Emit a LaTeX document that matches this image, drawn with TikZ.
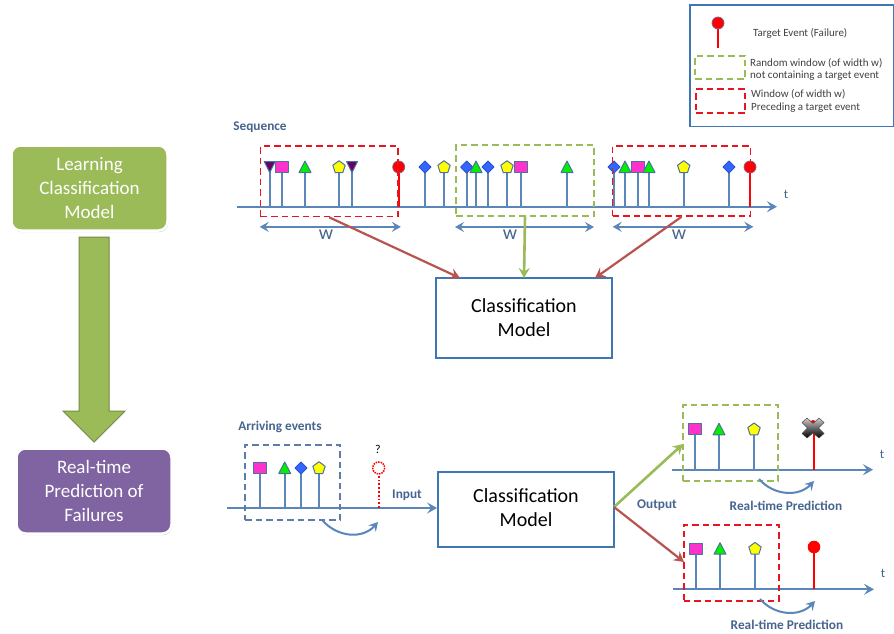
\documentclass[tikz,border=0pt]{standalone}
\usepackage{fontspec}
\setmainfont{Carlito}
\usetikzlibrary{arrows.meta,shadows,calc}
\definecolor{lnblue}{HTML}{5A86BA}
\definecolor{txblue}{HTML}{46658F}
\definecolor{boxblue}{HTML}{3F76B4}
\definecolor{wgreen}{HTML}{9BBB59}
\definecolor{wred}{HTML}{E81420}
\definecolor{brred}{HTML}{B8544F}
\definecolor{hgreen}{HTML}{00F000}
\definecolor{hmag}{HTML}{FF33CC}
\definecolor{hyel}{HTML}{FFFF00}
\definecolor{hblu}{HTML}{3366FF}
\definecolor{hpur}{HTML}{660066}
\definecolor{stepgreen}{HTML}{9BBB59}
\definecolor{steppurple}{HTML}{8064A2}
\definecolor{slateblue}{HTML}{5B7DA8}
\newcommand{\fs}[1]{\fontsize{#1}{#1}\selectfont}
\tikzset{
  x=1pt,y=-1pt,
  axisline/.style={draw=lnblue,line width=2pt,-{Stealth[length=10pt,width=11pt,inset=4pt]}},
  stemline/.style={draw=lnblue,line width=2pt},
  redstem/.style={draw=red,line width=2pt},
  mk/.style={draw=lnblue!85!black,line width=1pt,line join=round},
  sqm/.pic={\path[mk,fill=hmag] (-6.5,-5.5) rectangle (6.5,5.5);},
  trim/.pic={\path[mk,fill=hgreen] (-6,5.5) -- (0,-6) -- (6,5.5) -- cycle;},
  dnm/.pic={\path[mk,fill=hpur] (-5.5,-5.5) -- (5.5,-5.5) -- (0,5.5) -- cycle;},
  diam/.pic={\path[mk,draw=hblu!80!black,fill=hblu] (-6,0) -- (0,-6) -- (6,0) -- (0,6) -- cycle;},
  penm/.pic={\path[mk,fill=hyel] (0,-6.3) -- (6.2,-1.7) -- (3.8,5.5) -- (-3.8,5.5) -- (-6.2,-1.7) -- cycle;},
  redm/.pic={\path[draw=lnblue!70!red,line width=.8pt,fill=red] (0,0) circle (6);},
  winbase/.style={rectangle,inner sep=0pt,fill=none,line width=1.6pt,dash pattern=on 6.5pt off 4pt},
  winred/.style={winbase,draw=wred},
  wingreen/.style={winbase,draw=wgreen,line width=2pt},
  winblue/.style={winbase,draw=slateblue},
  modelbox/.style={rectangle,draw=boxblue,line width=1.8pt,fill=white,minimum width=176pt,align=center,font=\fs{20},text=black},
  stepbox/.style={rectangle,rounded corners=9pt,draw=white,line width=2.5pt,text=white,align=center,font=\fs{19},
     drop shadow={shadow xshift=.8pt,shadow yshift=-1.6pt,opacity=.35}},
  lab/.style={inner sep=0pt,text=txblue,font=\bfseries\fs{13.3}},
  leg/.style={inner sep=0pt,text=black!75,font=\fs{11},anchor=west},
  widthar/.style={draw=lnblue,line width=2pt,{Stealth[length=9pt,width=10pt,inset=3.5pt]}-{Stealth[length=9pt,width=10pt,inset=3.5pt]}},
  conred/.style={draw=brred,line width=2.2pt,-{Stealth[length=10pt,width=11pt,inset=3.5pt]}},
  congreen/.style={draw=wgreen,line width=2.6pt,-{Stealth[length=10pt,width=11pt,inset=3.5pt]}},
  curvear/.style={draw=lnblue,line width=2pt,-{Stealth[length=9pt,width=10pt,inset=3.5pt]}},
}
\newcommand{\ev}[4]{\draw[stemline] (#1,#3) -- (#1,#2); \pic at (#1,#2) {#4};}
\newcommand{\evr}[3]{\draw[redstem] (#1,#3) -- (#1,#2); \pic at (#1,#2) {redm};}
\begin{document}
\begin{tikzpicture}
\useasboundingbox (0,0) rectangle (894,633);
\fill[white] (0,0) rectangle (894,633);

% left column
\node[stepbox,fill=stepgreen,minimum width=156pt,minimum height=85pt] (learn) at (89.5,188) {Learning\\[5pt]Classification\\[5pt]Model};
\node[stepbox,fill=steppurple,minimum width=155pt,minimum height=85pt] (rt) at (94,491) {Real-time\\[5pt]Prediction of\\[5pt]Failures};
\path[draw=stepgreen!75!black,line width=1pt,fill=stepgreen,drop shadow={shadow xshift=.5pt,shadow yshift=-1pt,opacity=.2}]
  (79,237) -- (109,237) -- (109,411) -- (125,411) -- (94,442) -- (63,411) -- (79,411) -- cycle;

% legend
\draw[boxblue,line width=1.8pt] (690,5) rectangle (893.5,126.5);
\draw[redstem] (718,48) -- (718,23);
\pic at (718,23) {redm};
\node[leg] (l1) at (753,33) {Target Event (Failure)};
\node[wingreen,minimum width=50pt,minimum height=23.5pt] (lg) at (720,67.5) {};
\node[leg] (l2) at (750,63) {Random window (of width w)};
\node[leg] (l3) at (750,76) {not containing a target event};
\node[winred,line width=2pt,minimum width=49pt,minimum height=24pt] (lr) at (720.5,101) {};
\node[leg] (l4) at (751,94.5) {Window (of width w)};
\node[leg] (l5) at (751,108) {Preceding a target event};

% upper sequence
\node[lab] (seq) at (260,127) {Sequence};
\coordinate (s0) at (237,206.7);
\coordinate (s1) at (777,206.7);
\draw[axisline] (s0) -- (s1);
\foreach \x/\t in {269.7/dnm,281.7/sqm,305/trim,339/penm,352/dnm,425/diam,444/penm,466.7/diam,476/trim,488/diam,507/penm,521/sqm,567/trim,614/diam,625/trim,638/sqm,649/trim,683.7/penm,729/diam}
  {\ev{\x}{167}{206.7}{\t}}
\evr{398.7}{167}{206.7}
\evr{750}{167}{206.7}
\node[winred,minimum width=137.5pt,minimum height=70.5pt] (w1) at (329.3,181.3) {};
\node[wingreen,minimum width=138pt,minimum height=71pt] (w2) at (525,180.5) {};
\node[winred,minimum width=138pt,minimum height=70pt] (w3) at (681.5,181) {};
\node[inner sep=0pt,text=txblue,font=\fs{13}] (t1) at (786,194) {t};
\draw[widthar] ($(w1.south west)+(0,9.5)$) -- ($(w1.south east)+(2,9.5)$);
\draw[widthar] ($(w2.south west)+(0,10)$) -- ($(w2.south east)+(-1,10)$);
\draw[widthar] ($(w3.south west)+(1,10)$) -- ($(w3.south east)+(2,10)$);
\node[inner sep=0pt,text=txblue,font=\fs{20}] (wa) at (326,235) {w};
\node[inner sep=0pt,text=txblue,font=\fs{20}] (wb) at (510,235) {w};
\node[inner sep=0pt,text=txblue,font=\fs{20}] (wc) at (679,235) {w};

\node[modelbox,minimum height=80pt] (m1) at (524,318) {\raisebox{-1pt}{Classification}\\[4pt]\raisebox{-1pt}{Model}};
\coordinate (m1a) at (460,278);
\coordinate (m1b) at (524,278);
\coordinate (m1c) at (595,278);
\draw[conred] (w1.south) -- (m1a);
\draw[congreen] (w2.south) -- (m1b);
\draw[conred] (w3.south) -- (m1c);

% lower input
\node[lab] (arr) at (280,427) {Arriving events};
\node[modelbox,minimum height=75pt] (m2) at (526,509.5) {\raisebox{3pt}{Classification}\\[4pt]\raisebox{3pt}{Model}};
\coordinate (a0) at (227,508);
\draw[axisline] (a0) -- (a0 -| m2.west);
\ev{260}{468}{508}{sqm}
\ev{284.7}{468}{508}{trim}
\ev{301}{468}{508}{diam}
\ev{319}{468}{508}{penm}
\node[winblue,minimum width=95pt,minimum height=75.5pt] (w4) at (292.5,482.5) {};
\draw[draw=red,line width=1.8pt,dotted] (378.7,508) -- (378.7,475);
\draw[draw=red,line width=1.5pt,densely dotted] (378.7,468) circle (6);
\node[inner sep=0pt,text=black,font=\fs{12}] (q) at (378,449) {?};
\node[lab] (inp) at (407,495) {Input};
\coordinate (c1a) at (322,520);
\coordinate (c1b) at (378,522);
\draw[curvear] (c1a) .. controls (338,538) and (363,539) .. (c1b);

% outputs
\coordinate (out) at (614,507);
\node[lab] (outl) at (657,505) {Output};
% top output
\coordinate (b0) at (672,469.7);
\coordinate (b1) at (873,469.7);
\draw[axisline] (b0) -- (b1);
\ev{695}{429.3}{469.7}{sqm}
\ev{719}{429.3}{469.7}{trim}
\ev{754}{429.3}{469.7}{penm}
\draw[redstem] (813.5,469.7) -- (813.5,429);
\fill[red] (813,425) circle (5);
\path[top color=gray!40,bottom color=black,draw=black!70,line width=.5pt,line join=round]
  (802,422.5) -- (807,418) -- (813,423.5) -- (819,418) -- (824,422.5) -- (818.5,428) -- (824,433.5) -- (819,438) -- (813,433) -- (807,438) -- (802,433.5) -- (807.5,428) -- cycle;
\node[wingreen,line width=1.7pt,minimum width=95pt,minimum height=76pt] (w5) at (730.5,443) {};
\node[inner sep=0pt,text=txblue,font=\fs{13}] (t2) at (882,454) {t};
\coordinate (c2a) at (759,479);
\coordinate (c2b) at (814,481);
\draw[curvear] (c2a) .. controls (774,496) and (799,497) .. (c2b);
\node[lab] (rp1) at (786,506) {Real-time Prediction};
\coordinate (g1) at (683,444);
\draw[congreen] (out) -- (g1);
% bottom output
\coordinate (d0) at (673,589.3);
\coordinate (d1) at (874,589.3);
\draw[axisline] (d0) -- (d1);
\ev{696}{548.7}{589.3}{sqm}
\ev{720}{548.7}{589.3}{trim}
\ev{755}{548.7}{589.3}{penm}
\draw[redstem] (814,589.3) -- (814,547);
\fill[red] (814,547) circle (6.3);
\node[winred,minimum width=95.5pt,minimum height=76pt] (w6) at (731.5,562.7) {};
\node[inner sep=0pt,text=txblue,font=\fs{13}] (t3) at (883,573) {t};
\coordinate (c3a) at (760,599);
\coordinate (c3b) at (815,601);
\draw[curvear] (c3a) .. controls (775,616) and (800,617) .. (c3b);
\node[lab] (rp2) at (787,625) {Real-time Prediction};
\coordinate (r1) at (684,562);
\draw[conred] (out) -- (r1);
\end{tikzpicture}
\end{document}
